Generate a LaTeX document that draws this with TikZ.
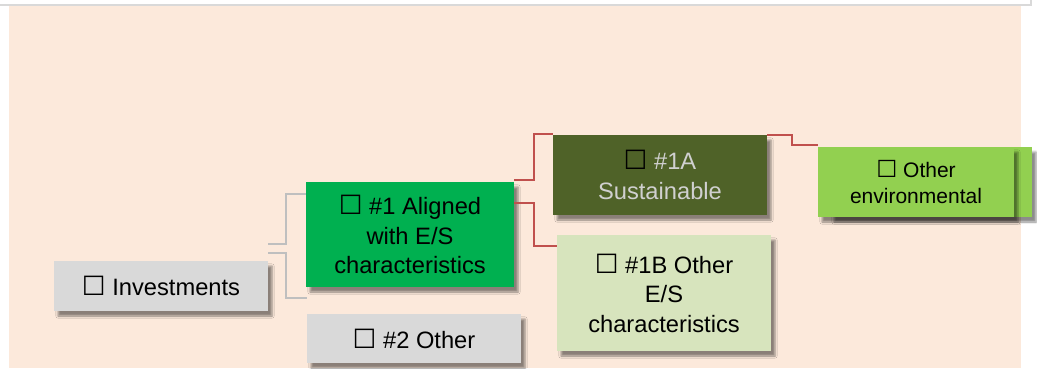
\documentclass[tikz,border=0pt]{standalone}
\usepackage{fontspec}
\setmainfont{Liberation Sans}
\newfontfamily\symfont{DejaVu Sans}
\usetikzlibrary{shadows.blur}

\definecolor{peach}{HTML}{FCE9DB}
\definecolor{boxgray}{HTML}{D9D9D9}
\definecolor{boxgreen}{HTML}{00B050}
\definecolor{boxolive}{HTML}{4F6228}
\definecolor{boxpale}{HTML}{D7E4BD}
\definecolor{boxlime}{HTML}{92D050}
\definecolor{linered}{HTML}{C0504D}
\definecolor{linegray}{HTML}{BFBFBF}
\definecolor{textlight}{HTML}{D0D0D0}

\newcommand{\chkbox}{{\color{black}\symfont\scalebox{1.12}{\char"2610}}}

\tikzset{
  box/.style={minimum width=214pt, inner sep=0pt, align=center,
    font=\fontsize{23.7}{29.5}\selectfont,
    blur shadow={shadow xshift=4pt, shadow yshift=-5pt, shadow opacity=45}},
  grayline/.style={draw=linegray, line width=1.6pt},
  redline/.style={draw=linered, line width=1.6pt},
}

\begin{document}
\begin{tikzpicture}[x=1pt, y=-1pt]
  \useasboundingbox (0,0) rectangle (1037,368);

  % Background
  \fill[peach] (9,6) rectangle (1021,368);
  \draw[boxgray, line width=2pt] (0,5) -- (1031,5) -- (1031,0);

  % Boxes
  \node[box, fill=boxgray, minimum height=50pt] (invest) at (161,286) {\chkbox{} Investments};
  \node[box, fill=boxgreen, minimum width=208pt, minimum height=105pt] (aligned) at (410,234.5)
    {\chkbox{} \#1 Aligned\\with E/S\\characteristics};
  \node[box, fill=boxgray, minimum height=49pt] (other2) at (414,338.5) {\chkbox{} \#2 Other};
  \node[box, fill=boxolive, text=textlight, minimum height=80pt] (sust) at (660,175)
    {\chkbox{} \#1A\\Sustainable};
  \node[box, fill=boxpale, minimum height=116pt] (otherES) at (664,293)
    {\chkbox{} \#1B Other\\E/S\\characteristics};
  \node[box, fill=boxlime, minimum width=202pt, minimum height=70pt] (envback) at (931,182) {};
  \node[box, fill=boxlime, minimum width=196pt, minimum height=70pt,
    font=\fontsize{21}{26}\selectfont] (otherenv) at (916,182)
    {\chkbox{} Other\\environmental};

  % Gray connectors
  \draw[grayline] ([yshift=17pt]invest.north east) -- ++(18,0) |- ([yshift=-12pt]aligned.north west);
  \draw[grayline] ([yshift=8pt]invest.north east) -- ++(18,0) |- ([yshift=16pt]other2.north west);

  % Red connectors
  \draw[redline] ([yshift=2pt]aligned.north east) -- ++(20,0) |- ([yshift=1pt]sust.north west);
  \draw[redline] ([yshift=-21pt]aligned.north east) -- ++(20,0) |- ([yshift=-11pt]otherES.north west);
  \draw[redline] (sust.north east) -- ++(25,0) |- ([yshift=2pt]otherenv.north west);
\end{tikzpicture}
\end{document}
